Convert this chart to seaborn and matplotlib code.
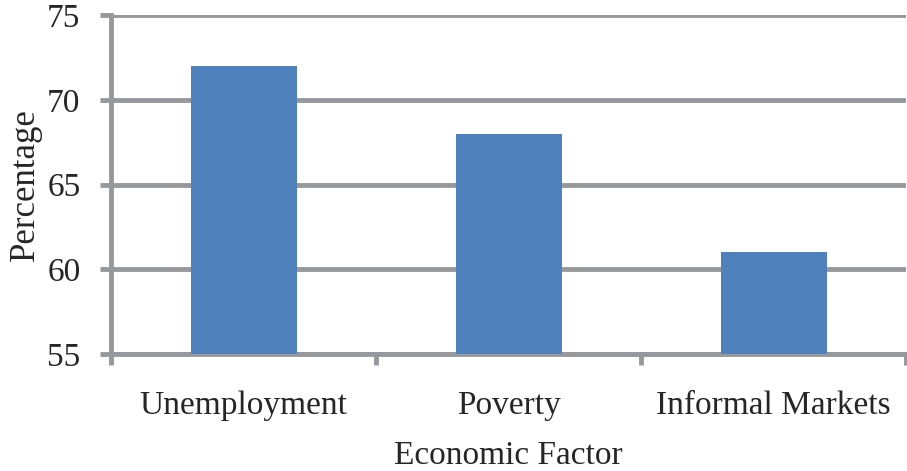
import numpy as np
import matplotlib.pyplot as plt
import seaborn as sns

# Data
factors = ['Unemployment', 'Poverty', 'Informal Markets']
percentages = [72, 68, 61]

sns.set_style("white")
plt.rcParams['font.family'] = ['Liberation Serif', 'DejaVu Serif']

grid_color = '#97989c'
bar_color = '#4f81bd'

fig = plt.figure(figsize=(9.07, 4.71), dpi=100)
ax = fig.add_axes([0.1224, 0.2484, 0.8766, 0.7196])

sns.barplot(x=factors, y=percentages, color=bar_color, width=0.4,
            saturation=1, linewidth=0, ax=ax, zorder=3)

ax.set_ylim(55, 75)
ax.set_yticks([55, 60, 65, 70, 75])
ax.set_xlim(-0.5, 2.5)

ax.yaxis.grid(True, color=grid_color, linewidth=3.5, zorder=0)
ax.set_axisbelow(True)

for side in ['top', 'right']:
    ax.spines[side].set_visible(False)
for side in ['left', 'bottom']:
    ax.spines[side].set_color(grid_color)
    ax.spines[side].set_linewidth(3.5)

ax.tick_params(axis='y', length=8, width=3.5, color=grid_color, pad=14,
               labelsize=24, left=True)
ax.tick_params(axis='x', which='major', length=0, pad=26, labelsize=24)
ax.set_xticks([-0.5, 0.5, 1.5, 2.5], minor=True)
ax.tick_params(axis='x', which='minor', length=8, width=3.5, color=grid_color,
               bottom=True)

ax.set_xlabel('Economic Factor', fontsize=24, labelpad=14)
ax.set_ylabel('Percentage', fontsize=25, labelpad=4)

fig.savefig('out.png', dpi=100)
